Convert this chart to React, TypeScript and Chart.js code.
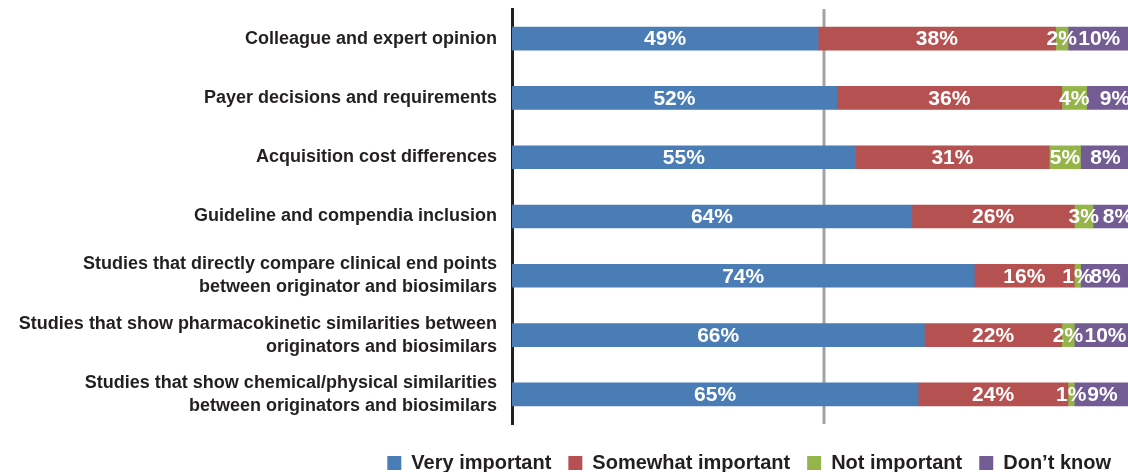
import React, { useEffect, useRef } from "react";
import { Chart, registerables } from "chart.js";

Chart.register(...registerables);

const categories: (string | string[])[] = [
  "Colleague and expert opinion",
  "Payer decisions and requirements",
  "Acquisition cost differences",
  "Guideline and compendia inclusion",
  ["Studies that directly compare clinical end points", "between originator and biosimilars"],
  ["Studies that show pharmacokinetic similarities between", "originators and biosimilars"],
  ["Studies that show chemical/physical similarities", "between originators and biosimilars"],
];

const veryImportant = [49, 52, 55, 64, 74, 66, 65];
const somewhatImportant = [38, 36, 31, 26, 16, 22, 24];
const notImportant = [2, 4, 5, 3, 1, 2, 1];
const dontKnow = [10, 9, 8, 8, 8, 10, 9];

const seriesNames = ["Very important", "Somewhat important", "Not important", "Don\u2019t know"];
const seriesColors = ["#4a7db5", "#b55151", "#95b54b", "#735b93"];

const referenceLine = 50;
const visibleMax = 98.6;

const FONT = "'Liberation Sans', Arial, Helvetica, sans-serif";
const TEXT_COLOR = "#231f20";

const referenceLinePlugin = {
  id: "referenceLine",
  beforeDatasetsDraw(chart: any) {
    const { ctx, chartArea } = chart;
    const x = Math.round(chart.scales.x.getPixelForValue(referenceLine));
    ctx.save();
    ctx.strokeStyle = "#a3a3a3";
    ctx.lineWidth = 3;
    ctx.beginPath();
    ctx.moveTo(x, chartArea.top);
    ctx.lineTo(x, chartArea.bottom);
    ctx.stroke();
    ctx.restore();
  },
};

const valueLabels = {
  id: "valueLabels",
  afterDatasetsDraw(chart: any) {
    const { ctx } = chart;
    ctx.save();
    ctx.font = `bold 21px ${FONT}`;
    ctx.fillStyle = "#ffffff";
    ctx.textAlign = "center";
    ctx.textBaseline = "middle";
    chart.data.datasets.forEach((ds: any, di: number) => {
      const meta = chart.getDatasetMeta(di);
      meta.data.forEach((bar: any, i: number) => {
        const v = ds.data[i];
        const { x, base, y } = bar.getProps(["x", "base", "y"], true);
        ctx.fillText(`${v}%`, (x + base) / 2, y + 1);
      });
    });
    ctx.restore();
  },
};

export default function App() {
  const canvasRef = useRef<HTMLCanvasElement | null>(null);

  useEffect(() => {
    if (!canvasRef.current) return;
    const seriesData = [veryImportant, somewhatImportant, notImportant, dontKnow];
    const chart = new Chart(canvasRef.current, {
      type: "bar",
      data: {
        labels: categories,
        datasets: seriesData.map((d, i) => ({
          label: seriesNames[i],
          data: d,
          backgroundColor: seriesColors[i],
          borderWidth: 0,
          barThickness: 23,
        })),
      },
      options: {
        indexAxis: "y",
        animation: false,
        responsive: true,
        maintainAspectRatio: false,
        layout: { padding: { top: 9, right: 0, bottom: -11, left: 0 } },
        scales: {
          x: {
            stacked: true,
            min: 0,
            max: visibleMax,
            ticks: { display: false },
            grid: { display: false, drawTicks: false },
            border: { display: false },
          },
          y: {
            stacked: true,
            grid: { display: false, drawTicks: false },
            border: { display: true, color: TEXT_COLOR, width: 3 },
            ticks: {
              padding: 15,
              color: TEXT_COLOR,
              font: { family: FONT, weight: "bold", size: 18, lineHeight: 1.28 },
            },
            afterFit: (s: any) => {
              s.width = 512;
              s.paddingTop = 0;
              s.paddingBottom = 0;
            },
          },
        },
        plugins: {
          legend: {
            position: "bottom",
            align: "end",
            title: { display: true, text: " ", padding: 0, font: { size: 12, lineHeight: 1 } },
            labels: {
              boxWidth: 14,
              boxHeight: 14,
              padding: 17,
              color: TEXT_COLOR,
              font: { family: FONT, weight: "bold", size: 20 },
            },
          },
          tooltip: { enabled: false },
        },
      },
      plugins: [referenceLinePlugin, valueLabels],
    } as any);
    return () => chart.destroy();
  }, []);

  return (
    <div style={{ position: "fixed", left: 0, top: 0, width: 1128, height: 472, background: "#fff" }}>
      <canvas ref={canvasRef} />
    </div>
  );
}
